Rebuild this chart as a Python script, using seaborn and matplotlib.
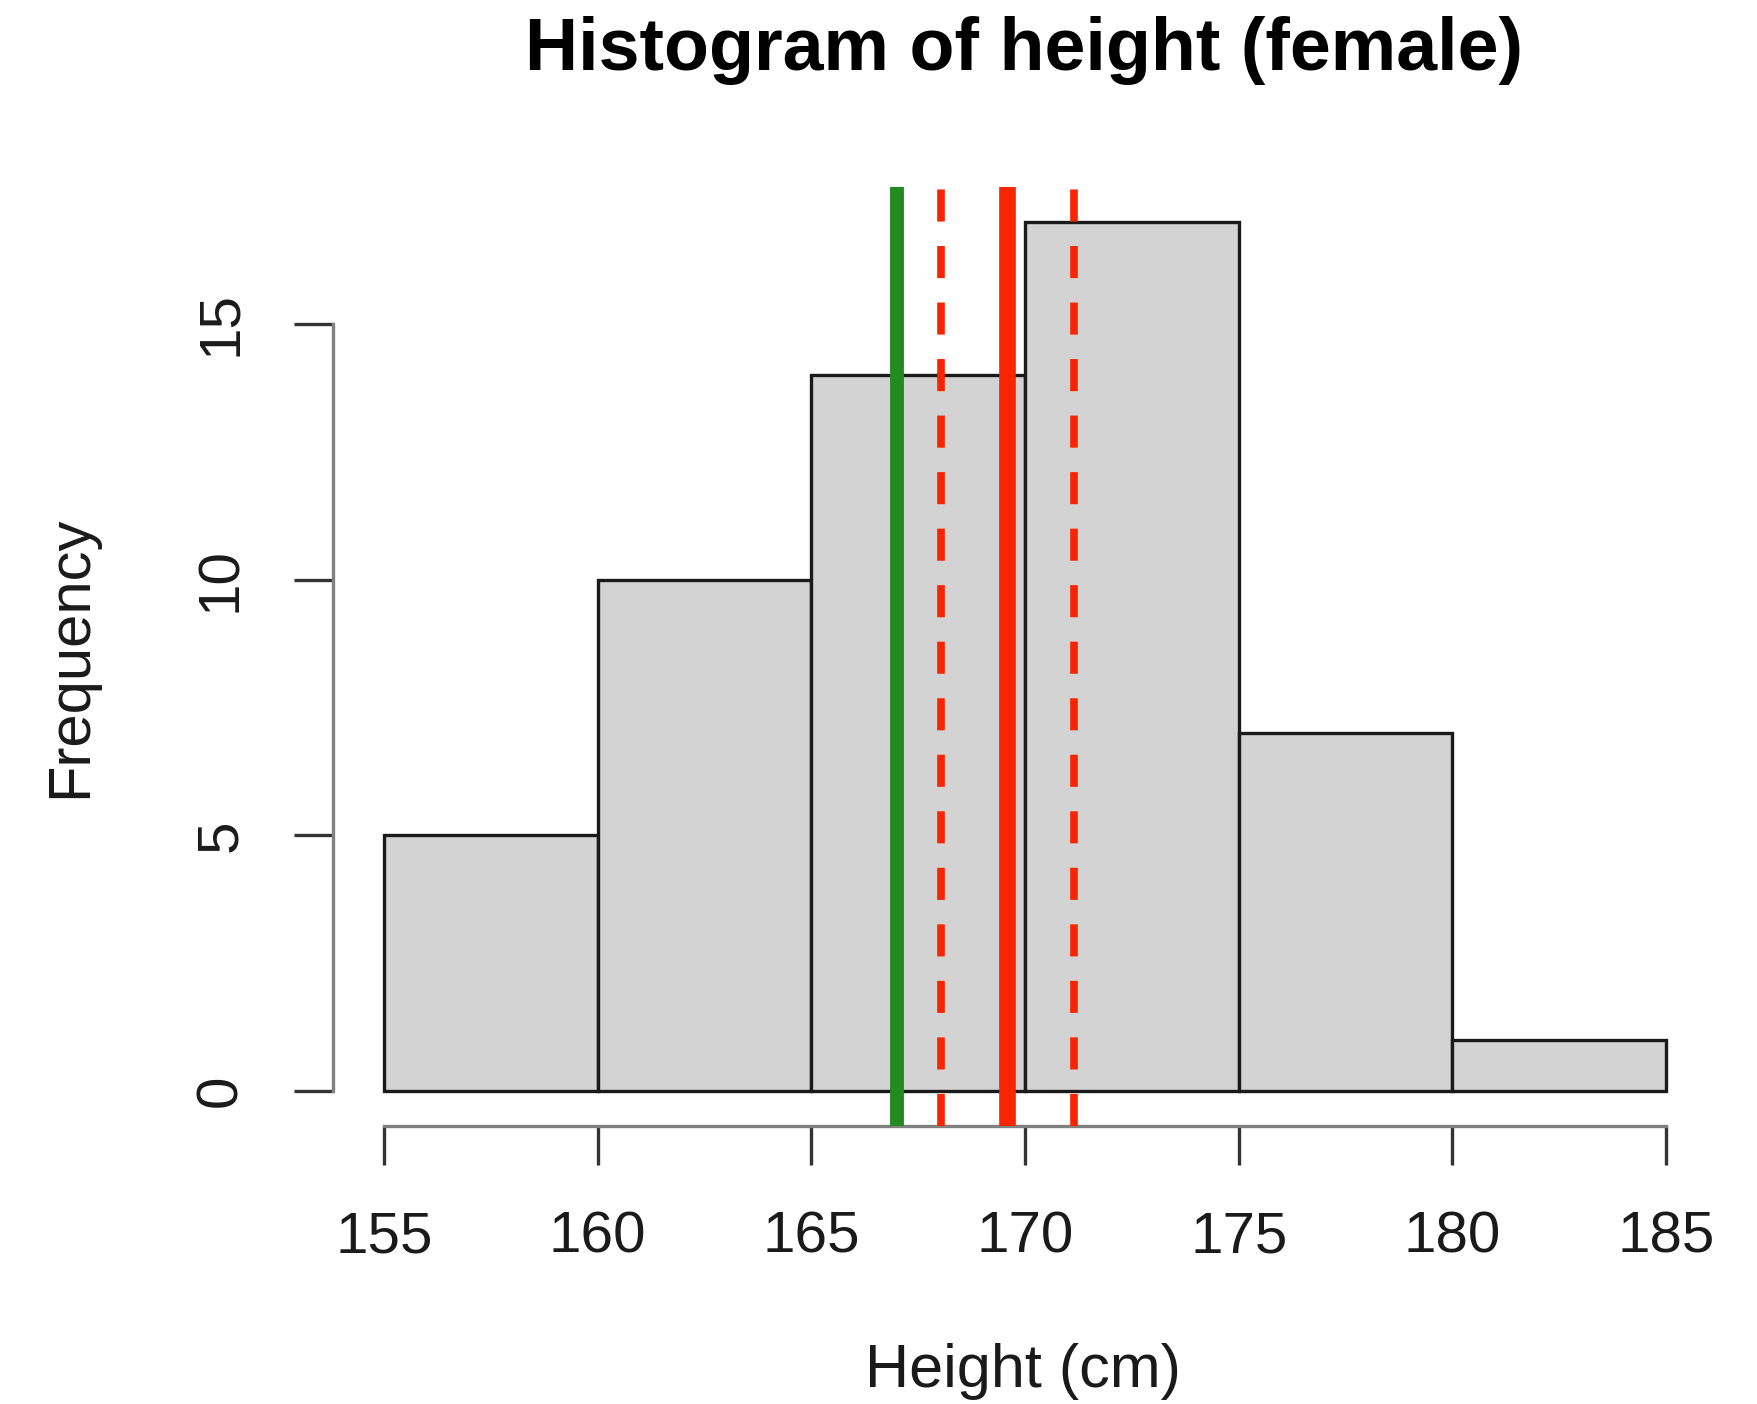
import matplotlib
matplotlib.use("Agg")
import matplotlib.pyplot as plt
import seaborn as sns
import numpy as np

# ---- data ----
bin_edges = [155, 160, 165, 170, 175, 180, 185]
counts = [5, 10, 14, 17, 7, 1]
median_value = 167.0
mean_value = 169.58
ci_bounds = [168.04, 171.14]
x_ticks = [155, 160, 165, 170, 175, 180, 185]
y_ticks = [0, 5, 10, 15]

sns.set_style("white")
plt.rcParams['font.family'] = ['Liberation Sans', 'DejaVu Sans']

fig = plt.figure(figsize=(17.57, 14.04), dpi=100)
ax = fig.add_axes([0.1894, 0.198, 0.9775 - 0.1894, 0.867 - 0.198])

centers = [(a + b) / 2 for a, b in zip(bin_edges[:-1], bin_edges[1:])]
sns.histplot(x=centers, weights=counts, bins=bin_edges, ax=ax,
             color="#d3d3d3", edgecolor="#1a1a1a", linewidth=2.4, alpha=1.0)

ax.axvline(median_value, color="#228B22", lw=10, zorder=5)
ax.axvline(mean_value, color="#f82500", lw=12, zorder=5)
for v in ci_bounds:
    ax.axvline(v, color="#f82500", lw=5.5, dashes=(4.2, 3.2), zorder=5)

ax.set_xlim(153.8, 186.2)
ax.set_ylim(-0.68, 17.68)

for s in ["top", "right"]:
    ax.spines[s].set_visible(False)
ax.spines["left"].set_bounds(0, 15)
ax.spines["bottom"].set_bounds(155, 185)
for s in ["left", "bottom"]:
    ax.spines[s].set_color("#808080")
    ax.spines[s].set_linewidth(2.4)

ax.set_xticks(x_ticks)
ax.set_yticks(y_ticks)
ax.set_xticklabels([str(t) for t in x_ticks])
ax.set_yticklabels([str(t) for t in y_ticks], rotation=90, va="center")
ax.tick_params(axis="both", direction="out", length=28, width=2.4,
               color="#333333", labelsize=42, labelcolor="#1a1a1a", pad=33,
               left=True, bottom=True)

ax.set_xlabel("")
ax.set_ylabel("")
fig.text(0.582, 0.023, "Height (cm)", ha="center", va="center", fontsize=44, color="#1a1a1a")
fig.text(0.040, 0.5325, "Frequency", ha="center", va="center", rotation=90, fontsize=43, color="#1a1a1a")
fig.text(0.583, 0.964, "Histogram of height (female)", ha="center", va="center",
         fontsize=53, fontweight="bold", color="black")

fig.savefig("out.png", dpi=100)
